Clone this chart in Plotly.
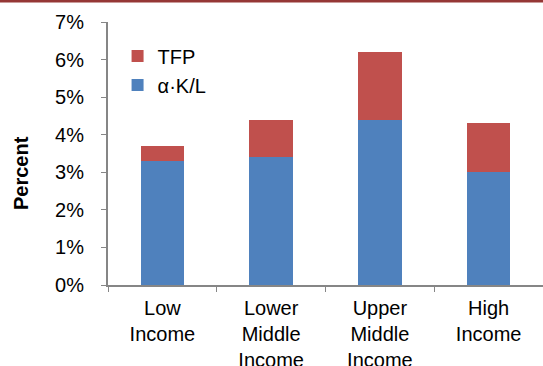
import plotly.graph_objects as go

# Growth decomposition by income group (percent per year)
categories = ["Low<br>Income", "Lower<br>Middle<br>Income", "Upper<br>Middle<br>Income", "High<br>Income"]
capital_deepening = [3.3, 3.4, 4.4, 3.0]   # alpha * K/L contribution
tfp = [0.4, 1.0, 1.8, 1.3]                 # total factor productivity contribution
y_ticks = [0, 1, 2, 3, 4, 5, 6, 7]
y_tick_labels = [f"{v}%" for v in y_ticks]

BLUE = "#4F81BD"
RED = "#C0504D"
AXIS = "#868686"
FONT = "Liberation Sans, Arial, sans-serif"

fig = go.Figure()
fig.add_trace(go.Bar(x=categories, y=capital_deepening, name="α·K/L",
                     marker=dict(color=BLUE, line=dict(width=0)),
                     width=0.4, legendgroup="a", legendrank=2))
fig.add_trace(go.Bar(x=categories, y=tfp, name="TFP",
                     marker=dict(color=RED, line=dict(width=0)),
                     width=0.4, legendgroup="b", legendrank=1))

plot_h = 366 - 22 - 81
fig.update_layout(
    width=543, height=366,
    margin=dict(l=108, r=0, t=22, b=81),
    barmode="stack",
    plot_bgcolor="white", paper_bgcolor="white",
    font=dict(family=FONT, size=20, color="#000000"),
    showlegend=True,
    legend=dict(x=0.022, y=0.945, xanchor="left", yanchor="top",
                traceorder="grouped", tracegroupgap=0,
                font=dict(size=20, color="#000000"),
                bgcolor="rgba(0,0,0,0)", itemwidth=30),
    xaxis=dict(range=[-0.5, 3.5], showline=True, linecolor=AXIS, linewidth=2,
               ticks="outside", tickson="boundaries", ticklen=5,
               tickcolor=AXIS, tickwidth=1, showgrid=False,
               ticklabelstandoff=4, automargin=False,
               tickfont=dict(size=20, color="#000000")),
    yaxis=dict(range=[0, 7], tickvals=y_ticks, ticktext=y_tick_labels,
               showline=True, linecolor=AXIS, linewidth=2,
               ticks="outside", ticklen=5, tickcolor=AXIS, tickwidth=1,
               ticklabelstandoff=13, automargin=False,
               showgrid=False, zeroline=False,
               tickfont=dict(size=20, color="#000000")),
    annotations=[dict(text="<b>Percent</b>", x=(21 - 108) / 435,
                      y=(285 - 173) / plot_h, xanchor="center", yanchor="middle",
                      xref="paper", yref="paper", textangle=-90,
                      showarrow=False, font=dict(size=20, color="#000000"))],
    shapes=[dict(type="line", xref="paper", yref="paper",
                 x0=-108 / 435, x1=1.0,
                 y0=1 + 21 / plot_h, y1=1 + 21 / plot_h,
                 line=dict(color="#953735", width=3))],
)

fig.write_html("out.html")
